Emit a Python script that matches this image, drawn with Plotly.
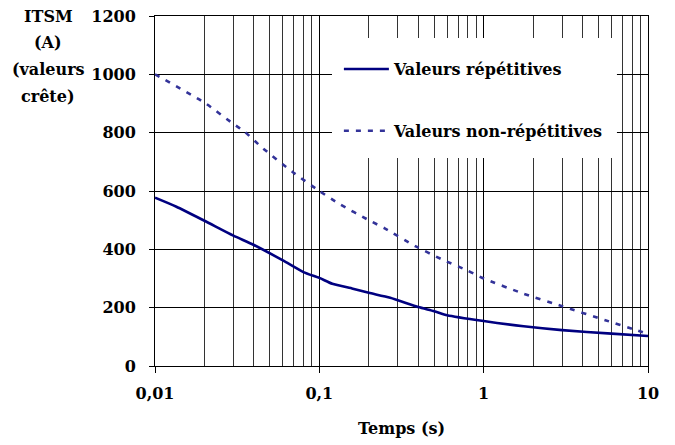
import plotly.graph_objects as go

# Data
t_rep = [0.01, 0.0135, 0.02, 0.03, 0.04, 0.06, 0.08, 0.1, 0.12, 0.16, 0.2, 0.27, 0.4, 0.5, 0.6, 1.0, 1.75, 3.0, 6.0, 10]
i_rep = [577, 546, 498, 447, 415, 362, 322, 302, 282, 265, 251, 234, 202, 188, 174, 154, 136, 123, 111, 103]

t_nrep = [0.01, 0.02, 0.03, 0.035, 0.045, 0.07, 0.1, 0.133, 0.2, 0.25, 0.39, 0.55, 0.8, 1.0, 1.75, 3.0, 5.5, 8.3, 10]
i_nrep = [1000, 903, 830, 804, 748, 662, 600, 555, 500, 472, 409, 367, 327, 300, 248, 205, 157, 125, 110]

name_rep = "Valeurs répétitives"
name_nrep = "Valeurs non-répétitives"

x_major = [0.01, 0.1, 1, 10]
x_major_text = ["0,01", "0,1", "1", "10"]
x_minor = [m * d for d in (0.01, 0.1, 1) for m in range(2, 10)]

y_ticks = [0, 200, 400, 600, 800, 1000, 1200]

y_title_lines = ["ITSM", "(A)", "(valeurs", "crête)"]
x_title = "Temps (s)"

FONT = "DejaVu Serif"
fsize = 16
tfont = dict(family=FONT, size=fsize, color="black", weight="bold")

fig = go.Figure()
fig.add_trace(go.Scatter(x=t_rep, y=i_rep, mode="lines", name=name_rep,
                         line=dict(color="#000080", width=2.6, shape="spline", smoothing=0.6),
                         legendgroup="a"))
fig.add_trace(go.Scatter(x=t_nrep, y=i_nrep, mode="lines", name=name_nrep,
                         line=dict(color="#333399", width=2.6, dash="5px,7px", shape="spline", smoothing=0.6),
                         legendgroup="b"))

# white legend panel
fig.add_shape(type="rect", xref="paper", yref="paper",
              x0=0.359, x1=0.937, y0=0.594, y1=0.937,
              fillcolor="white", line=dict(width=0), layer="above")

ann = []
ys = [1.0, 0.923, 0.846, 0.771]
for txt, yy in zip(y_title_lines, ys):
    ann.append(dict(text=txt, xref="paper", yref="paper", x=-0.217, y=yy,
                    xanchor="center", yanchor="middle", showarrow=False, font=tfont))

fig.update_layout(
    width=667, height=437,
    margin=dict(l=147, r=27, t=8, b=79, autoexpand=False),
    paper_bgcolor="white", plot_bgcolor="white",
    font=tfont,
    annotations=ann,
    showlegend=True,
    legend=dict(x=0.373, y=0.897, xanchor="left", yanchor="top",
                bgcolor="rgba(0,0,0,0)", borderwidth=0,
                itemwidth=45,
                traceorder="grouped", tracegroupgap=38, font=tfont),
    xaxis=dict(type="log", range=[-2, 1], automargin=False,
               tickvals=x_major, ticktext=x_major_text,
               ticks="outside", ticklen=6, tickcolor="black", tickwidth=1,
               showline=True, mirror=True, linecolor="black", linewidth=1,
               showgrid=True, gridcolor="black", gridwidth=1,
               minor=dict(tickvals=x_minor, showgrid=True, gridcolor="#333333", gridwidth=1, ticks=""),
               ticklabelstandoff=7,
               title=dict(text=x_title, standoff=20, font=tfont),
               zeroline=False),
    yaxis=dict(range=[0, 1200], tickvals=y_ticks, automargin=False,
               ticklabeloverflow="allow",
               ticks="outside", ticklen=5, tickcolor="black", tickwidth=1,
               showline=True, mirror=True, linecolor="black", linewidth=1,
               showgrid=True, gridcolor="black", gridwidth=1,
               ticklabelstandoff=10, zeroline=False),
)

fig.write_html("out.html")
